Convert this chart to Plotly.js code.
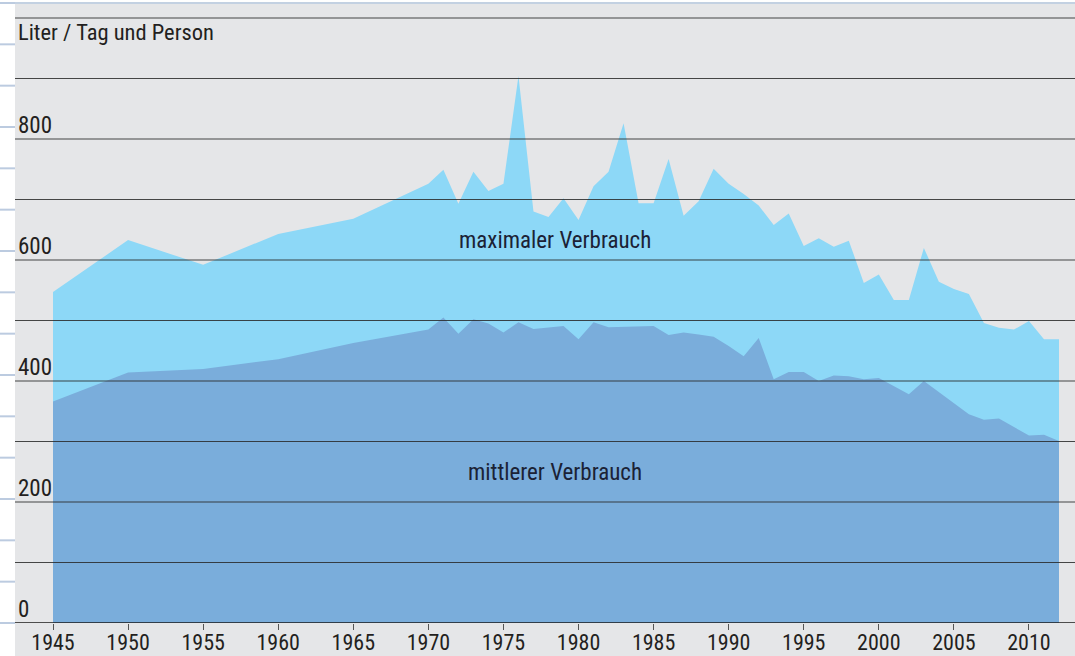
<!DOCTYPE html>
<html>
<head>
<meta charset="utf-8">
<script src="https://cdn.plot.ly/plotly-3.0.1.min.js"></script>
<style>html,body{margin:0;padding:0;background:#fff;}#chart{width:1075px;height:656px;}</style>
</head>
<body>
<div id="chart"></div>
<script>
// Years
const yearsMax = [1945,1950,1955,1960,1965,1970,1971,1972,1973,1974,1975,1976,1977,1978,1979,1980,1981,1982,1983,1984,1985,1986,1987,1988,1989,1990,1991,1992,1993,1994,1995,1996,1997,1998,1999,2000,2001,2002,2003,2004,2005,2006,2007,2008,2009,2010,2011,2012];
// maximaler Verbrauch (Liter / Tag und Person)
const maxValues = [547,633,592,643,668,726,749,693,746,714,726,904,680,671,702,666,722,746,826,694,694,767,673,697,751,726,709,690,658,677,623,636,622,632,562,576,534,534,620,564,552,544,496,488,485,499,469,469];
const yearsMean = [1945,1950,1955,1960,1965,1970,1971,1972,1973,1974,1975,1976,1977,1978,1979,1980,1981,1982,1983,1984,1985,1986,1987,1988,1989,1990,1991,1992,1993,1994,1995,1996,1997,1998,1999,2000,2001,2002,2003,2004,2005,2006,2007,2008,2009,2010,2011,2012];
// mittlerer Verbrauch
const meanValues = [366,414,420,436,463,485,505,478,502,495,480,497,486,488,491,469,497,489,490,490,491,476,480,477,473,458,441,471,403,415,415,400,409,408,403,405,392,378,400,382,364,345,336,338,324,310,311,301];

const xTicks = [1945,1950,1955,1960,1965,1970,1975,1980,1985,1990,1995,2000,2005,2010];
const yLabelValues = [0,200,400,600,800];
const gridValues = [0,100,200,300,400,500,600,700,800,900,1000];
const unitLabel = "Liter / Tag und Person";
const seriesLabels = ["maximaler Verbrauch","mittlerer Verbrauch"];

const FONT = "'Liberation Sans Narrow', 'Arial Narrow', 'Roboto Condensed', 'Liberation Sans', sans-serif";
const GRAY = "#e5e6e8";
const W = 1075, H = 656, ML = 15, MR = 0, MT = 3, MB = 33;
const PW = W - ML - MR, PH = H - MT - MB;

const traces = [
  {x: yearsMax, y: maxValues, type: 'scatter', mode: 'lines', fill: 'tozeroy',
   fillcolor: '#8dd8f7', line: {width: 0, color: '#8dd8f7'}, hoverinfo: 'skip', showlegend: false},
  {x: yearsMean, y: meanValues, type: 'scatter', mode: 'lines', fill: 'tozeroy',
   fillcolor: '#7aaddb', line: {width: 0, color: '#7aaddb'}, hoverinfo: 'skip', showlegend: false}
];

const shapes = [];
// gray band under the axis (label area)
shapes.push({type: 'rect', xref: 'paper', yref: 'paper', x0: 0, x1: 1, y0: -MB / PH, y1: 0,
  fillcolor: GRAY, line: {width: 0}, layer: 'below'});
// grid lines above the areas
gridValues.forEach(v => {
  shapes.push({type: 'line', xref: 'paper', yref: 'y', x0: 0, x1: 1, y0: v, y1: v,
    line: {color: v === 0 ? '#1a1a1a' : 'rgba(40,40,40,0.85)', width: v === 0 ? 1.5 : 1.2}, layer: 'above'});
});
// top light rule
shapes.push({type: 'line', xref: 'paper', yref: 'paper', x0: -ML / PW, x1: 1, y0: 1, y1: 1,
  line: {color: '#c3d1e2', width: 2}, layer: 'above'});
// decorative ruler marks in the left margin
for (let i = 0; i <= 15; i++) {
  shapes.push({type: 'line', xref: 'paper', yref: 'paper', x0: -ML / PW, x1: 0, y0: i / 15, y1: i / 15,
    line: {color: '#bccbe0', width: 2}, layer: 'above'});
}

const annotations = [];
yLabelValues.forEach(v => {
  annotations.push({xref: 'paper', yref: 'y', x: 0, y: v, xanchor: 'left', yanchor: 'bottom',
    xshift: 1, yshift: -2, text: String(v), showarrow: false,
    font: {family: FONT, size: 23, color: '#231f20'}});
});
annotations.push({xref: 'paper', yref: 'paper', x: 0, y: 1, xanchor: 'left', yanchor: 'top',
  xshift: 1, yshift: -14, text: unitLabel, showarrow: false,
  font: {family: FONT, size: 22.5, color: '#231f20'}});
annotations.push({xref: 'x', yref: 'y', x: 1978.4, y: 633, text: seriesLabels[0], showarrow: false,
  font: {family: FONT, size: 23, color: '#1b2235'}});
annotations.push({xref: 'x', yref: 'y', x: 1978.4, y: 248, text: seriesLabels[1], showarrow: false,
  font: {family: FONT, size: 23, color: '#1b2235'}});

const layout = {
  width: W, height: H,
  margin: {l: ML, r: MR, t: MT, b: MB, pad: 0},
  paper_bgcolor: '#ffffff',
  plot_bgcolor: GRAY,
  showlegend: false,
  xaxis: {
    range: [1945 - 38 / 15.015, 1945 + 1022 / 15.015],
    tickvals: xTicks, ticktext: xTicks.map(String),
    ticks: 'outside', ticklen: 6, tickwidth: 1, tickcolor: '#555',
    ticklabelstandoff: -6,
    showgrid: false, zeroline: false, showline: false,
    tickfont: {family: FONT, size: 22, color: '#231f20'},
    fixedrange: true
  },
  yaxis: {
    range: [0, 1024.8],
    showgrid: false, zeroline: false, showline: false, showticklabels: false, ticks: '',
    fixedrange: true
  },
  shapes: shapes,
  annotations: annotations
};

Plotly.newPlot('chart', traces, layout, {displayModeBar: false, staticPlot: true});
</script>
</body>
</html>
